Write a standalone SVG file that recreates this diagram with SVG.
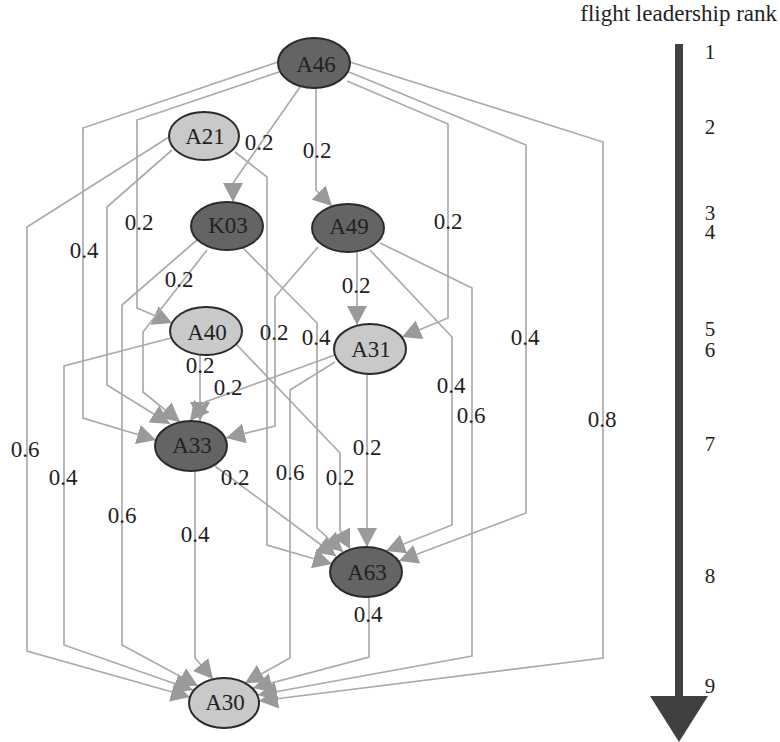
<svg xmlns="http://www.w3.org/2000/svg" width="780" height="742" viewBox="0 0 780 742">
<style>
.e{fill:none;stroke:#ababab;stroke-width:1.7;marker-end:url(#ah)}
.n ellipse{stroke:#2b2b2b;stroke-width:2}
.dk ellipse{fill:#646464}
.lt ellipse{fill:#c9c9c9}
text{font-family:"Liberation Serif","Times New Roman",serif;fill:#222;font-size:23px}
.nl{text-anchor:middle}
.l{text-anchor:middle}
.r{text-anchor:middle;font-size:21px}
</style>
<defs>
<marker id="ah" markerUnits="userSpaceOnUse" viewBox="0 0 19 20" markerWidth="19" markerHeight="20" refX="19" refY="10" orient="auto">
<path d="M0,0 L19,10 L0,20 z" fill="#9a9a9a"/>
</marker>
</defs>
<g id="connectors">
<path class="e" d="M300,87 L233,183 L233,202"/>
<path class="e" d="M316,88 L316,190 L332,206"/>
<path class="e" d="M278,62 L83,128 L83,418 L156,440"/>
<path class="e" d="M279,72 L137,120 L137,308 L172,323"/>
<path class="e" d="M347,81 L448,124 L448,318 L402,337"/>
<path class="e" d="M349,72 L526,145 L526,513 L399,561"/>
<path class="e" d="M350,62 L603,142 L603,658 L259,701"/>
<path class="e" d="M169,137 L27,227 L27,651 L190,697"/>
<path class="e" d="M172,150 L107,207 L107,385 L170,424"/>
<path class="e" d="M235,152 L267,177 L267,545 L332,564"/>
<path class="e" d="M207,250 L143,332 L143,392 L180,422"/>
<path class="e" d="M243,248 L317,323 L317,528 L343,552"/>
<path class="e" d="M197,240 L122,305 L122,645 L198,686"/>
<path class="e" d="M357,252 L357,325"/>
<path class="e" d="M318,247 L275,297 L275,426 L226,438"/>
<path class="e" d="M370,250 L452,337 L452,525 L386,551"/>
<path class="e" d="M380,243 L472,288 L472,656 L258,695"/>
<path class="e" d="M200,355 L200,421"/>
<path class="e" d="M171,338 L64,366 L64,645 L193,690"/>
<path class="e" d="M237,345 L340,453 L340,530 L350,549"/>
<path class="e" d="M335,355 L205,402 L190,421"/>
<path class="e" d="M335,362 L290,390 L290,658 L245,683"/>
<path class="e" d="M367,374 L367,547"/>
<path class="e" d="M215,466 L336,556"/>
<path class="e" d="M195,471 L195,658 L213,679"/>
<path class="e" d="M369,597 L369,657 L253,688"/>
</g>
<g id="edge-labels">
<text class="l" x="259" y="150">0.2</text>
<text class="l" x="317" y="158">0.2</text>
<text class="l" x="139" y="230">0.2</text>
<text class="l" x="84" y="258">0.4</text>
<text class="l" x="448" y="229">0.2</text>
<text class="l" x="179" y="287">0.2</text>
<text class="l" x="356" y="293">0.2</text>
<text class="l" x="274" y="340">0.2</text>
<text class="l" x="316" y="345">0.4</text>
<text class="l" x="525" y="345">0.4</text>
<text class="l" x="200" y="373">0.2</text>
<text class="l" x="228" y="395">0.2</text>
<text class="l" x="451" y="393">0.4</text>
<text class="l" x="471" y="423">0.6</text>
<text class="l" x="602" y="427">0.8</text>
<text class="l" x="25" y="457">0.6</text>
<text class="l" x="367" y="455">0.2</text>
<text class="l" x="63" y="485">0.4</text>
<text class="l" x="235" y="485">0.2</text>
<text class="l" x="290" y="480">0.6</text>
<text class="l" x="340" y="485">0.2</text>
<text class="l" x="122" y="523">0.6</text>
<text class="l" x="195" y="542">0.4</text>
<text class="l" x="368" y="622">0.4</text>
</g>
<g id="A46" class="n dk"><ellipse cx="314" cy="63" rx="36" ry="25"/><text class="nl" x="316" y="72">A46</text></g>
<g id="A21" class="n lt"><ellipse cx="204" cy="136" rx="35" ry="24"/><text class="nl" x="205" y="144">A21</text></g>
<g id="K03" class="n dk"><ellipse cx="227" cy="226" rx="36" ry="24"/><text class="nl" x="228" y="233">K03</text></g>
<g id="A49" class="n dk"><ellipse cx="348" cy="228" rx="36" ry="24"/><text class="nl" x="349" y="234">A49</text></g>
<g id="A40" class="n lt"><ellipse cx="206" cy="331" rx="36" ry="24"/><text class="nl" x="207" y="340">A40</text></g>
<g id="A31" class="n lt"><ellipse cx="370" cy="349" rx="36" ry="25"/><text class="nl" x="371" y="357">A31</text></g>
<g id="A33" class="n dk"><ellipse cx="191" cy="446" rx="36" ry="25"/><text class="nl" x="192" y="453">A33</text></g>
<g id="A63" class="n dk"><ellipse cx="366" cy="572" rx="36" ry="25"/><text class="nl" x="367" y="580">A63</text></g>
<g id="A30" class="n lt"><ellipse cx="224" cy="703" rx="35" ry="25"/><text class="nl" x="225" y="710">A30</text></g>
<g id="rank-axis">
<text x="777" y="21" style="text-anchor:end;font-size:23px">flight leadership rank</text>
<line x1="679" y1="44" x2="679" y2="700" stroke="#404040" stroke-width="8"/>
<polygon points="650,696 708,696 679,742" fill="#404040"/>
<text class="r" x="710" y="59">1</text>
<text class="r" x="710" y="134">2</text>
<text class="r" x="710" y="220">3</text>
<text class="r" x="710" y="239">4</text>
<text class="r" x="710" y="336">5</text>
<text class="r" x="710" y="357">6</text>
<text class="r" x="710" y="451">7</text>
<text class="r" x="710" y="583">8</text>
<text class="r" x="710" y="693">9</text>
</g>
</svg>
